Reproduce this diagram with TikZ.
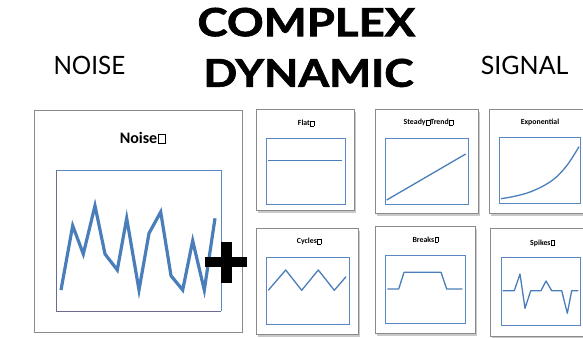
\documentclass[tikz,border=0pt]{standalone}
\usepackage{fontspec}
\setmainfont{Carlito}
\newfontfamily\gill{Lato}[BoldFeatures={FakeBold=1.6}]
\usetikzlibrary{shadows}
\definecolor{xlblue}{HTML}{4A7EBB}
\definecolor{frameblue}{HTML}{5B87C5}
\definecolor{panelgray}{HTML}{8A8A8A}
\newcommand\mbx{\hspace{0.06em}{\fboxsep0pt\fboxrule0.3pt\fbox{\rule{0pt}{0.6em}\hspace{0.4em}}}\hspace{0.06em}}
\tikzset{
  panel/.style={draw=panelgray, fill=white, line width=0.8pt, anchor=north west, inner sep=0pt,
     drop shadow={shadow xshift=1.5pt, shadow yshift=-2.5pt, opacity=0.35, fill=black!60}},
  bigpanel/.style={draw=panelgray, fill=white, line width=1pt, anchor=north west, inner sep=0pt},
  chart/.style={draw=frameblue, line width=0.7pt, anchor=north west, inner sep=0pt},
  ptitle/.style={font=\bfseries\fontsize{7.8}{9}\selectfont, inner sep=0pt},
  series/.style={draw=xlblue, line width=1.3pt, line join=round},
  head/.style={inner sep=0pt, anchor=south west},
}
\begin{document}
\begin{tikzpicture}[x=1pt,y=-1pt]
\useasboundingbox[fill=white] (0,0) rectangle (583,337);
% headings
\node[head] (noisehead) at (53.3,75) {\resizebox{71.7pt}{18.3pt}{\gill NOISE}};
\node[head] (signalhead) at (480.7,75) {\resizebox{87.6pt}{18.3pt}{\gill SIGNAL}};
\node[head] (complexhead) at (197.3,36.7) {\resizebox{217.7pt}{28.4pt}{\gill\bfseries COMPLEX}};
\node[head] (dynamichead) at (203.3,87.3) {\resizebox{210pt}{28pt}{\gill\bfseries DYNAMIC}};
% noise panel
\node[bigpanel, minimum width=208pt, minimum height=222pt] (noise) at (34,110) {};
\node[font=\bfseries\fontsize{16}{18}\selectfont, inner sep=0pt] (noisetitle) at (142.5,138) {Noise\mbx};
\node[draw=none, anchor=north west, inner sep=0pt, minimum width=164.7pt, minimum height=141pt] (noisechart) at (56,170) {};
\draw[frameblue, line width=0.8pt] (noisechart.north west) -- (noisechart.north east) -- (noisechart.south east);
\draw[gray!85!blue, line width=1pt] (noisechart.north west) -- (noisechart.south west) -- (noisechart.south east);
\draw[xlblue, line width=3.2pt, line join=miter, miter limit=10]
  (61,290) -- (72.7,225.7) -- (83.3,254) -- (95,205.7) -- (105,254) -- (117.3,270) -- (126.7,218.3)
  -- (139,290) -- (149,233.3) -- (160.7,212) -- (171,275.7) -- (182.7,290) -- (192.7,240.7)
  -- (204.3,290) -- (215,218.3);
% plus sign
\fill[black] (205,256.7) rectangle (247.3,267.3);
\fill[black] (220.7,241.7) rectangle (231.7,283.3);
% small panels
\node[panel, minimum width=98.3pt, minimum height=100.7pt] (flat) at (256,109.3) {};
\node[chart, minimum width=79pt, minimum height=66pt] (flatchart) at (266,138.3) {};
\node[ptitle] (flattitle) at (306,123.3) {Flat\mbx};
\draw[series] (268.3,160.3) -- (342.3,160.3);

\node[panel, minimum width=103.3pt, minimum height=104pt] (trend) at (374.7,109.3) {};
\node[chart, minimum width=82.7pt, minimum height=66.3pt] (trendchart) at (385,137.7) {};
\node[ptitle] (trendtitle) at (428.3,122.7) {Steady\mbx Trend\mbx};
\draw[series] (386.7,200) -- (465.7,154);

\node[panel, minimum width=94pt, minimum height=104pt] (expo) at (488.6,109.3) {};
\node[chart, minimum width=81pt, minimum height=66pt] (expochart) at (499,137.3) {};
\node[ptitle] (expotitle) at (540,122.7) {Exponential};
\draw[series] plot[smooth, tension=0.6] coordinates {(501,198.7) (515,196.2) (530,192) (545,185) (556.7,176.7) (568,164) (579,146.7)};

\node[panel, minimum width=102.6pt, minimum height=105.7pt] (cycles) at (255.7,228.3) {};
\node[chart, minimum width=82.7pt, minimum height=66.7pt] (cycleschart) at (266,257) {};
\node[ptitle] (cyclestitle) at (309,241.7) {Cycles\mbx};
\draw[series] (268.3,290.3) -- (285.7,270) -- (301.7,290.3) -- (318.3,270) -- (334.3,290.3) -- (346,276.7);

\node[panel, minimum width=100.6pt, minimum height=107pt] (breaks) at (374.7,226.3) {};
\node[chart, minimum width=80pt, minimum height=68pt] (breakschart) at (385.3,255.3) {};
\node[ptitle] (breakstitle) at (425.5,239.7) {Breaks\mbx};
\draw[series] (387.3,289) -- (398.7,289) -- (404,272.3) -- (441,272.3) -- (446.7,289) -- (462.3,289);

\node[panel, minimum width=92.4pt, minimum height=107.5pt] (spikes) at (490.3,228.3) {};
\node[chart, minimum width=78.3pt, minimum height=67.5pt] (spikeschart) at (501.2,257) {};
\node[ptitle] (spikestitle) at (542.5,243) {Spikes\mbx};
\draw[series] (502.7,290.7) -- (514.3,290.7) -- (520,274) -- (525,308.3) -- (530.7,290.7) -- (541,290.7)
  -- (546,281) -- (551.7,290.7) -- (561.7,290.7) -- (567.3,313.3) -- (571.7,290.7) -- (578.3,290.7);
\end{tikzpicture}
\end{document}
